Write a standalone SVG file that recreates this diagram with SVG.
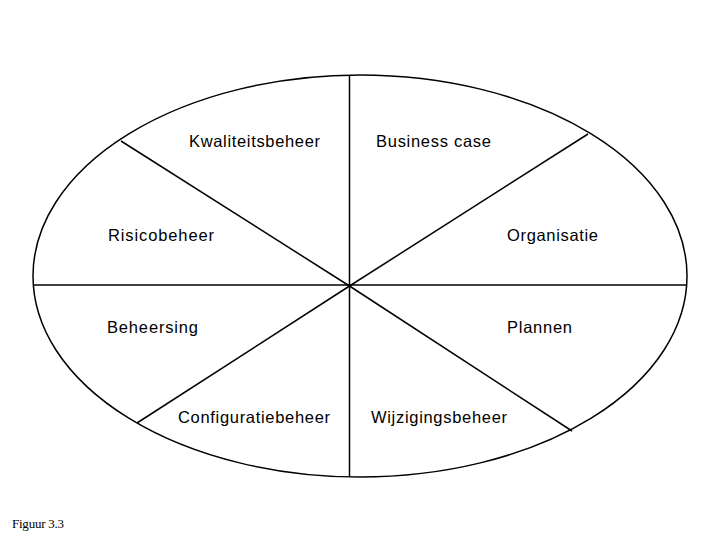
<svg xmlns="http://www.w3.org/2000/svg" width="720" height="540" viewBox="0 0 720 540">
<style>
.l{stroke:#000;stroke-width:1.5;fill:none}
.t{font-family:"Liberation Sans",Arial,sans-serif;font-size:16.5px;fill:#000}
.f{font-family:"Liberation Serif","Times New Roman",serif;font-size:13px;fill:#000}
</style>
<rect width="720" height="540" fill="#fff"/>
<g id="ellipse"><ellipse class="l" cx="360" cy="276" rx="327" ry="201"/></g>
<g id="connectors">
<line class="l" x1="349.5" y1="75" x2="349.5" y2="477"/>
<line class="l" x1="33" y1="285" x2="687" y2="285"/>
<line class="l" x1="121" y1="141" x2="349.5" y2="286"/>
<line class="l" x1="588" y1="134" x2="349.5" y2="286"/>
<line class="l" x1="137" y1="423" x2="349.5" y2="286"/>
<line class="l" x1="572" y1="431" x2="349.5" y2="286"/>
</g>
<g id="kwaliteitsbeheer"><text class="t" x="189" y="147" textLength="131">Kwaliteitsbeheer</text></g>
<g id="business-case"><text class="t" x="376" y="147" textLength="115">Business case</text></g>
<g id="risicobeheer"><text class="t" x="108" y="241" textLength="106">Risicobeheer</text></g>
<g id="organisatie"><text class="t" x="507" y="241" textLength="91">Organisatie</text></g>
<g id="beheersing"><text class="t" x="107" y="333" textLength="91">Beheersing</text></g>
<g id="plannen"><text class="t" x="507" y="333" textLength="65">Plannen</text></g>
<g id="configuratiebeheer"><text class="t" x="178" y="423" textLength="152">Configuratiebeheer</text></g>
<g id="wijzigingsbeheer"><text class="t" x="371" y="423" textLength="136">Wijzigingsbeheer</text></g>
<text class="f" x="12" y="528" textLength="52">Figuur 3.3</text>
</svg>
